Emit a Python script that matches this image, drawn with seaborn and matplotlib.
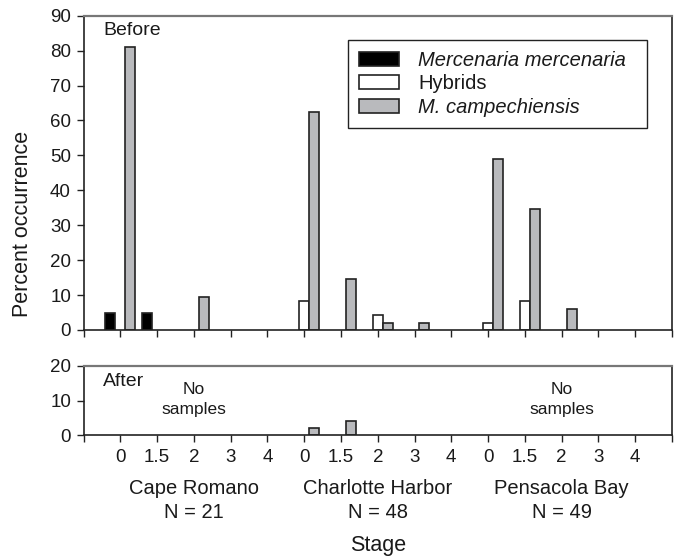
import numpy as np
import pandas as pd
import matplotlib
matplotlib.use("Agg")
import matplotlib.pyplot as plt
import matplotlib.transforms as mtransforms
import seaborn as sns

# ---------------- data ----------------
sites = ["Cape Romano", "Charlotte Harbor", "Pensacola Bay"]
site_n = [21, 48, 49]
stages = ["0", "1.5", "2", "3", "4"]
species = ["Mercenaria mercenaria", "Hybrids", "M. campechiensis"]

before_mercenaria = [4.8, 4.8, 0, 0, 0,   0, 0, 0, 0, 0,   0, 0, 0, 0, 0]
before_hybrids = [0, 0, 0, 0, 0,   8.3, 0, 4.2, 0, 0,   2.0, 8.2, 0, 0, 0]
before_campechiensis = [81.0, 0, 9.5, 0, 0,   62.5, 14.6, 2.1, 2.1, 0,   49.0, 34.7, 6.1, 0, 0]

after_mercenaria = [np.nan] * 5 + [0, 0, 0, 0, 0] + [np.nan] * 5
after_hybrids = [np.nan] * 5 + [0, 0, 0, 0, 0] + [np.nan] * 5
after_campechiensis = [np.nan] * 5 + [2.1, 4.2, 0, 0, 0] + [np.nan] * 5

colors = ["#000000", "#ffffff", "#b9babd"]

keys = [f"{s}|{st}" for s in sites for st in stages]


def make_df(series_list):
    rows = []
    for i, k in enumerate(keys):
        for sp, arr in zip(species, series_list):
            v = arr[i]
            if v is not None and not np.isnan(v) and v > 0:
                rows.append({"group": k, "species": sp, "value": v})
    return pd.DataFrame(rows)


df_before = make_df([before_mercenaria, before_hybrids, before_campechiensis])
df_after = make_df([after_mercenaria, after_hybrids, after_campechiensis])

# ---------------- style ----------------
sns.set_style("ticks")
plt.rcParams["font.family"] = ["Liberation Sans", "DejaVu Sans"]
txt = "#1a1a1a"
plt.rcParams["text.color"] = txt
plt.rcParams["xtick.color"] = "#222222"
plt.rcParams["ytick.color"] = "#222222"
plt.rcParams["xtick.labelcolor"] = txt
plt.rcParams["ytick.labelcolor"] = txt

W, H = 677, 558
fig = plt.figure(figsize=(W / 100, H / 100), dpi=100)


def axrect(l, t, r, b):
    return [l / W, 1 - b / H, (r - l) / W, (b - t) / H]


ax1 = fig.add_axes(axrect(83.5, 15.7, 672, 330))
ax2 = fig.add_axes(axrect(83.5, 366, 672, 435))

bar_kw = dict(x="group", y="value", hue="species", order=keys, hue_order=species,
              palette=colors, width=0.81, gap=0, dodge=True, errorbar=None,
              edgecolor="#222222", linewidth=1.2, saturation=1)

sns.barplot(data=df_before, ax=ax1, legend=True, **bar_kw)
sns.barplot(data=df_after, ax=ax2, legend=False, **bar_kw)

tick_pos = list(range(-1, 16))
tick_lab = [""] + [st for _ in sites for st in stages] + [""]

for ax in (ax1, ax2):
    ax.set_xlim(-1, 15)
    ax.set_xticks(tick_pos)
    ax.set_xlabel("")
    ax.set_ylabel("")
    ax.tick_params(axis="both", direction="out", length=5, width=1.0,
                   labelsize=13.5, pad=4)
    for side in ("left", "bottom", "right"):
        ax.spines[side].set_visible(True)
        ax.spines[side].set_color("#222222")
        ax.spines[side].set_linewidth(1.2)
    ax.spines["top"].set_visible(True)
    ax.spines["top"].set_color("#777777")
    ax.spines["top"].set_linewidth(1.6)

ax1.set_ylim(0, 90)
ax1.set_yticks(range(0, 91, 10))
ax1.set_xticklabels([""] * len(tick_pos))

ax2.set_ylim(0, 20)
ax2.set_yticks([0, 10, 20])
ax2.set_xticklabels(tick_lab)
ax2.tick_params(axis="x", pad=5)

# legend
handles, labels = ax1.get_legend_handles_labels()
leg = ax1.legend(handles[:3], labels[:3], loc="upper left",
                 bbox_to_anchor=(0.449, 0.647, 0.508, 0.276), mode="expand",
                 borderaxespad=0,
                 frameon=True, fancybox=False, framealpha=1,
                 edgecolor="#222222", fontsize=14.5, handlelength=2.0,
                 handleheight=0.7, labelspacing=0.22, borderpad=0.55,
                 handletextpad=0.95)
leg.get_frame().set_linewidth(1.0)
for h, c in zip(leg.legend_handles, colors):
    h.set_facecolor(c)
    h.set_edgecolor("#222222")
    h.set_linewidth(1.2)
for i, t in enumerate(leg.get_texts()):
    if i != 1:
        t.set_fontstyle("italic")

# panel annotations
ax1.text(0.033, 0.952, "Before", transform=ax1.transAxes, ha="left",
         va="center", fontsize=14)
ax2.text(0.033, 0.78, "After", transform=ax2.transAxes, ha="left",
         va="center", fontsize=14)
for gi in (2, 12):
    ax2.text(gi, 10.3, "No\nsamples", ha="center", va="center",
             fontsize=12.5, linespacing=1.45)

# site labels
blend = mtransforms.blended_transform_factory(ax2.transData, fig.transFigure)
for si, (s, n) in enumerate(zip(sites, site_n)):
    cx = si * 5 + 2
    fig.text(cx, 1 - 488 / H, s, transform=blend, ha="center", va="center",
             fontsize=14.5)
    fig.text(cx, 1 - 513 / H, f"N = {n}", transform=blend, ha="center",
             va="center", fontsize=14.5)

fig.text(7, 1 - 546 / H, "Stage", transform=blend, ha="center", va="center",
         fontsize=15.5)
fig.text(23 / W, 1 - 224 / H, "Percent occurrence", rotation=90, ha="center",
         va="center", fontsize=15.5)

fig.savefig("out.png", dpi=100)
